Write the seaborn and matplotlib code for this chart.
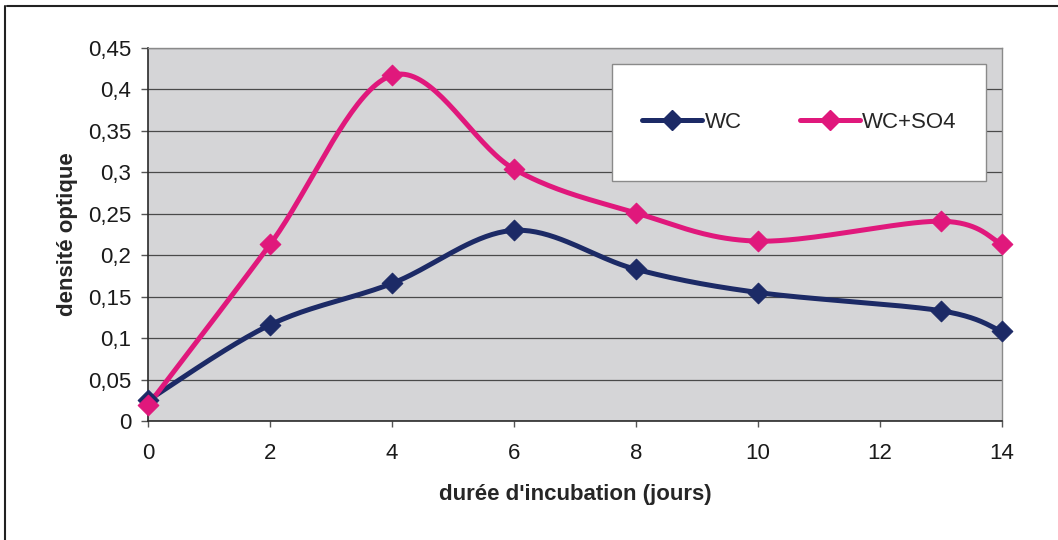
import numpy as np
import pandas as pd
import seaborn as sns
import matplotlib.pyplot as plt
import matplotlib.ticker as ticker
from matplotlib.lines import Line2D
from matplotlib.patches import Rectangle

jours = [0, 2, 4, 6, 8, 10, 13, 14]
wc = [0.025, 0.116, 0.166, 0.230, 0.183, 0.155, 0.133, 0.108]
wc_so4 = [0.019, 0.213, 0.417, 0.304, 0.251, 0.217, 0.241, 0.213]
series = {"WC": wc, "WC+SO4": wc_so4}
colors = {"WC": "#1c2a66", "WC+SO4": "#e0187c"}


def smooth(xs, ys, n=40):
    # excel-like smoothed line (bezier through the points)
    p = np.column_stack([xs, ys]).astype(float)
    p = np.vstack([p[0], p, p[-1]])
    out = []
    t = np.linspace(0, 1, n)[:, None]
    for i in range(1, len(p) - 2):
        p0, p1, p2, p3 = p[i - 1], p[i], p[i + 1], p[i + 2]
        c1 = p1 + (p2 - p0) / 6
        c2 = p2 - (p3 - p1) / 6
        seg = (1 - t) ** 3 * p1 + 3 * (1 - t) ** 2 * t * c1 + 3 * (1 - t) * t ** 2 * c2 + t ** 3 * p2
        out.append(seg if i == 1 else seg[1:])
    out = np.vstack(out)
    return out[:, 0], out[:, 1]


sns.set_style("white")
plt.rcParams["font.family"] = ["Liberation Sans", "DejaVu Sans"]
FS = 16

fig = plt.figure(figsize=(10.58, 5.40), dpi=100)
ax = fig.add_axes([0.140, 0.2204, 0.807, 0.6907])
ax.set_facecolor("#d5d5d7")

for name, vals in series.items():
    sx, sy = smooth(jours, vals)
    sns.lineplot(x=sx, y=sy, sort=False, estimator=None, color=colors[name], lw=3.6, ax=ax, legend=False, zorder=3)
    df = pd.DataFrame({"jours": jours, "val": vals})
    sns.scatterplot(data=df, x="jours", y="val", marker="D", s=110, color=colors[name],
                    edgecolor=colors[name], linewidth=0.8, ax=ax, legend=False, zorder=4, clip_on=False)

ax.set_xlim(0, 14)
ax.set_ylim(0, 0.45)
ax.set_xticks(range(0, 15, 2))
ax.set_yticks(np.arange(0, 0.451, 0.05))
ax.yaxis.set_major_formatter(ticker.FuncFormatter(lambda v, _: f"{v:.2f}".rstrip("0").rstrip(".").replace(".", ",") if v else "0"))
ax.grid(axis="y", color="#4a4a4a", lw=0.9)
ax.set_axisbelow(True)
ax.tick_params(axis="x", which="major", direction="out", length=4, width=1, colors="#555", pad=12,
               labelsize=FS, labelcolor="#1a1a1a", bottom=True)
ax.tick_params(axis="y", which="major", direction="out", length=5, width=1, colors="#555", pad=7,
               labelsize=FS, labelcolor="#1a1a1a", left=True)
for side in ["left", "bottom"]:
    ax.spines[side].set_color("#2a2a2a")
    ax.spines[side].set_linewidth(1.2)
for side in ["top", "right"]:
    ax.spines[side].set_color("#8a8a8a")
    ax.spines[side].set_linewidth(1.0)

ax.set_xlabel("durée d'incubation (jours)", fontsize=FS, fontweight="bold", labelpad=14)
ax.set_ylabel("densité optique", fontsize=FS, fontweight="bold", labelpad=7)

# legend box
ax.add_patch(Rectangle((0.543, 0.643), 0.438, 0.314, transform=ax.transAxes, facecolor="white",
                       edgecolor="#8a8a8a", lw=1.0, zorder=5))
handles = [Line2D([], [], color=colors[k], lw=3.6, marker="D", markersize=10) for k in series]
leg = ax.legend(handles, list(series), loc="center", bbox_to_anchor=(0.763, 0.80), ncol=2, frameon=False,
                fontsize=FS, handlelength=2.7, handletextpad=0.12, columnspacing=2.6)
leg.set_zorder(6)

# outer frame of the figure
fig.add_artist(Line2D([0.007, 1.0], [0.989, 0.989], transform=fig.transFigure, color="#222", lw=1.5))
fig.add_artist(Line2D([0.005, 0.005], [0.0, 0.989], transform=fig.transFigure, color="#222", lw=1.5))

fig.savefig("out.png", dpi=100)
